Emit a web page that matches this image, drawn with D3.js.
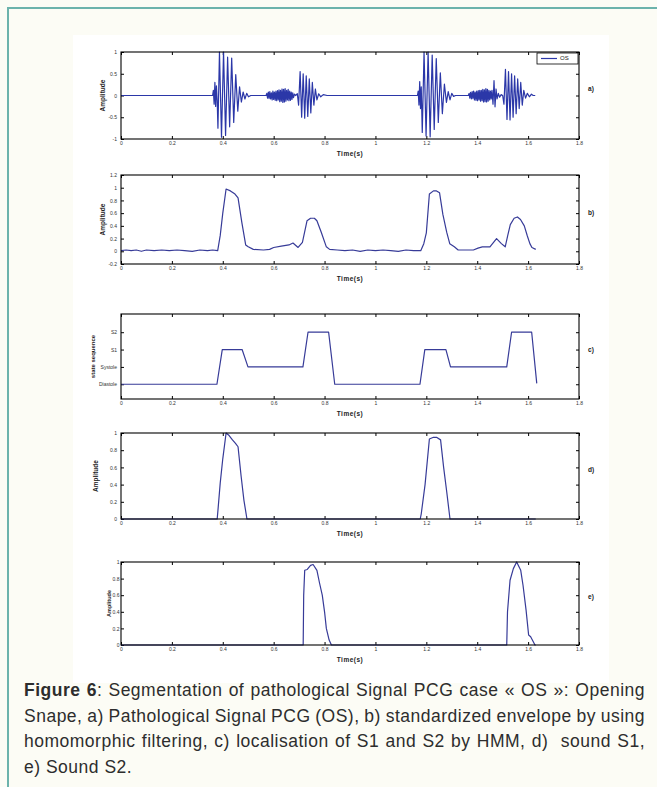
<!DOCTYPE html>
<html lang="en">
<head>
<meta charset="UTF-8">
<title>Figure 6</title>
<script src="https://cdn.jsdelivr.net/npm/d3@7"></script>
<style>
  body{margin:0;background:#fcfcf5;}
  svg{display:block;font-family:"Liberation Sans",Arial,sans-serif;}
</style>
</head>
<body>
<svg id="fig" width="657" height="787"></svg>
<script>
// ---- data: [time (s), value] ----
var xTicks = [0,0.2,0.4,0.6,0.8,1,1.2,1.4,1.6,1.8];
var ampTicksA = [-1,-0.5,0,0.5,1];
var ampTicksB = [-0.2,0,0.2,0.4,0.6,0.8,1,1.2];
var ampTicksDE = [0,0.2,0.4,0.6,0.8,1];
var stateTicks = [1,2,3,4];
var stateNames = ["Diastole","Systole","S1","S2"];
var panelTags = ["a)","b)","c)","d)","e)"];

// a) PCG signal (OS)
var pcgSignal = [
  [0,0],[0.36,0],
  [0.363,0.12],[0.366,-0.2],[0.369,0.3],[0.372,-0.25],[0.375,0.22],[0.378,-0.1],
  [0.381,-0.75],[0.387,1],[0.395,-0.96],[0.403,1],[0.411,-0.92],[0.419,0.88],[0.427,-0.72],
  [0.435,0.86],[0.443,-0.62],[0.451,0.48],[0.459,-0.36],[0.466,0.2],[0.473,-0.15],[0.48,0.08],
  [0.487,-0.08],[0.494,0.05],[0.501,-0.03],[0.51,0],
  [0.57,0],[0.573,0.05],[0.576,-0.06],[0.579,0.08],[0.582,-0.07],[0.585,0.09],[0.588,-0.08],
  [0.591,0.06],[0.594,-0.1],[0.597,0.1],[0.6,-0.09],[0.603,0.08],[0.606,-0.11],[0.609,0.1],
  [0.612,-0.12],[0.615,0.11],[0.618,-0.1],[0.621,0.13],[0.624,-0.14],[0.627,0.12],[0.63,-0.13],
  [0.633,0.15],[0.636,-0.16],[0.639,0.14],[0.642,-0.15],[0.645,0.16],[0.648,-0.13],[0.651,0.12],
  [0.654,-0.1],[0.657,0.14],[0.66,-0.12],[0.663,0.1],[0.666,-0.11],[0.669,0.08],[0.672,-0.09],
  [0.675,0.06],[0.678,-0.05],[0.682,0.03],[0.686,0],
  [0.693,0.04],[0.698,-0.22],[0.704,0.55],[0.71,-0.5],[0.716,0.5],[0.722,-0.52],[0.728,0.45],
  [0.734,-0.48],[0.74,0.38],[0.746,-0.4],[0.752,0.3],[0.758,-0.22],[0.764,0.15],[0.77,-0.1],
  [0.777,0.04],[0.785,-0.03],[0.795,0.02],[0.81,0],
  [1.165,0],[1.168,0.1],[1.171,-0.22],[1.174,0.32],[1.177,-0.3],[1.18,0.2],
  [1.184,-0.85],[1.191,1],[1.199,-0.93],[1.207,1],[1.215,-0.95],[1.223,0.93],[1.231,-0.78],
  [1.239,0.85],[1.247,-0.62],[1.255,0.52],[1.263,-0.42],[1.271,0.26],[1.279,-0.16],[1.286,0.09],
  [1.293,-0.1],[1.3,0.05],[1.307,-0.02],[1.315,0],
  [1.365,0],[1.368,0.05],[1.371,-0.06],[1.374,0.07],[1.377,-0.08],[1.38,0.09],[1.383,-0.07],
  [1.386,0.1],[1.389,-0.1],[1.392,0.08],[1.395,-0.11],[1.398,0.1],[1.401,-0.12],[1.404,0.11],
  [1.407,-0.1],[1.41,0.12],[1.413,-0.13],[1.416,0.12],[1.419,-0.12],[1.422,0.14],[1.425,-0.15],
  [1.428,0.13],[1.431,-0.14],[1.434,0.16],[1.437,-0.15],[1.44,0.14],[1.443,-0.13],[1.446,0.12],
  [1.449,-0.1],[1.452,0.1],[1.455,-0.08],[1.458,0.12],[1.462,-0.2],[1.466,0.34],[1.47,-0.26],
  [1.474,0.15],[1.478,-0.08],[1.483,0.05],[1.488,-0.04],[1.494,0.02],[1.5,0],
  [1.505,-0.2],[1.511,0.6],[1.517,-0.55],[1.523,0.55],[1.529,-0.56],[1.535,0.5],[1.541,-0.5],
  [1.547,0.45],[1.553,-0.42],[1.559,0.38],[1.565,-0.3],[1.571,0.3],[1.577,-0.22],[1.583,0.12],
  [1.59,-0.06],[1.597,0.05],[1.605,-0.03],[1.613,0.03],[1.62,0],[1.628,0]
];

// b) standardized envelope (homomorphic filtering)
var envelope = [
  [0,0.01],[0.02,0.02],[0.04,0.01],[0.06,0.02],[0.08,0],[0.1,0.02],[0.13,0.01],[0.16,0.02],
  [0.19,0.01],[0.22,0.02],[0.25,0.01],[0.28,0],[0.31,0.02],[0.34,0.01],[0.36,0.02],[0.38,0.01],
  [0.39,0.25],[0.4,0.6],[0.413,0.98],[0.43,0.95],[0.448,0.9],[0.46,0.84],[0.475,0.45],
  [0.49,0.1],[0.5,0.07],[0.52,0.03],[0.56,0.02],[0.584,0.03],[0.6,0.06],[0.63,0.08],[0.66,0.1],
  [0.676,0.13],[0.696,0.06],[0.713,0.14],[0.731,0.48],[0.745,0.52],[0.76,0.52],[0.77,0.48],
  [0.787,0.3],[0.807,0.07],[0.82,0.03],[0.85,0.02],[0.88,0.01],[0.91,0.02],[0.94,0],[0.97,0.02],
  [1,0.01],[1.03,0.02],[1.06,0.01],[1.09,0],[1.12,0.02],[1.15,0.01],[1.178,0.01],
  [1.19,0.12],[1.2,0.29],[1.212,0.9],[1.228,0.95],[1.24,0.95],[1.252,0.92],[1.265,0.58],
  [1.28,0.3],[1.292,0.12],[1.31,0.07],[1.325,0.02],[1.36,0.02],[1.385,0.02],[1.403,0.05],
  [1.42,0.07],[1.45,0.07],[1.476,0.2],[1.495,0.12],[1.51,0.07],[1.52,0.25],[1.53,0.42],
  [1.545,0.52],[1.558,0.54],[1.57,0.5],[1.585,0.4],[1.597,0.24],[1.607,0.12],[1.615,0.06],
  [1.63,0.03]
];

// c) HMM state sequence (1 Diastole, 2 Systole, 3 S1, 4 S2)
var stateSeq = [
  [0,1],[0.377,1],[0.398,3],[0.476,3],[0.499,2],[0.715,2],[0.735,4],[0.816,4],[0.84,1],
  [1.175,1],[1.194,3],[1.277,3],[1.295,2],[1.516,2],[1.535,4],[1.614,4],[1.634,1.05]
];

// d) sound S1
var soundS1 = [
  [0,0],[0.378,0],[0.381,0.1],[0.39,0.42],[0.4,0.7],[0.413,1],[0.425,0.97],[0.438,0.92],
  [0.45,0.88],[0.46,0.84],[0.472,0.5],[0.483,0.22],[0.495,0],[1.176,0],[1.18,0.06],
  [1.195,0.4],[1.212,0.93],[1.228,0.95],[1.24,0.95],[1.256,0.92],[1.268,0.6],[1.28,0.32],
  [1.293,0],[1.63,0]
];

// e) sound S2
var soundS2 = [
  [0,0],[0.716,0],[0.718,0.6],[0.722,0.9],[0.732,0.91],[0.745,0.96],[0.755,0.97],[0.77,0.9],
  [0.78,0.75],[0.791,0.6],[0.8,0.4],[0.807,0.2],[0.818,0.06],[0.827,0],[1.516,0],
  [1.519,0.4],[1.529,0.78],[1.542,0.92],[1.555,1],[1.571,0.9],[1.58,0.72],[1.592,0.42],
  [1.602,0.12],[1.61,0.1],[1.627,0],[1.63,0]
];

var captionLines = [
  ["Figure 6", ": Segmentation of pathological Signal PCG case \u00ab OS \u00bb: Opening"],
  ["", "Snape, a) Pathological Signal PCG (OS), b) standardized envelope by using"],
  ["", "homomorphic filtering, c) localisation of S1 and S2 by HMM, d)  sound S1,"],
  ["", "e) Sound S2."]
];

// ---- drawing ----
var svg = d3.select("#fig");

svg.append("rect").attr("x",73).attr("y",35).attr("width",536).attr("height",648).attr("fill","#ffffff");
svg.append("path").attr("d","M8,787V8H657").attr("fill","none").attr("stroke","#6cb3ac").attr("stroke-width",2);

var x = d3.scaleLinear().domain([0,1.8]).range([121,579]);
var fmt = function(d){ return String(d); };

var panels = [
  {data:pcgSignal, top:52, bottom:139, domain:[-1,1], ticks:ampTicksA, label:"Amplitude", lx:103, ls:6.5, pad:4, color:"#2b37a8"},
  {data:envelope, top:175, bottom:264, domain:[-0.2,1.2], ticks:ampTicksB, label:"Amplitude", lx:103, ls:6.5, pad:4, color:"#373b98"},
  {data:stateSeq, top:314, bottom:399, domain:[0.15,5.05], ticks:stateTicks, names:stateNames, label:"state sequence", lx:93, ls:6, pad:4, color:"#373b98"},
  {data:soundS1, top:433, bottom:519, domain:[0,1], ticks:ampTicksDE, label:"Amplitude", lx:96, ls:6.5, pad:4, color:"#373b98"},
  {data:soundS2, top:562, bottom:645, domain:[0,1], ticks:ampTicksDE, label:"Amplitude", lx:110, ls:5.5, pad:1.5, color:"#373b98"}
];

panels.forEach(function(p, i){
  var y = d3.scaleLinear().domain(p.domain).range([p.bottom, p.top]);
  var g = svg.append("g");
  var yFmt = p.names ? function(d){ return p.names[p.ticks.indexOf(d)]; } : fmt;

  var axes = [
    [d3.axisBottom(x).tickValues(xTicks).tickFormat(fmt).tickPadding(2), "translate(0,"+p.bottom+")"],
    [d3.axisTop(x).tickValues(xTicks).tickFormat(""), "translate(0,"+p.top+")"],
    [d3.axisLeft(y).tickValues(p.ticks).tickFormat(yFmt).tickPadding(p.pad), "translate(121,0)"],
    [d3.axisRight(y).tickValues(p.ticks).tickFormat(""), "translate(579,0)"]
  ];
  axes.forEach(function(a){
    var ax = g.append("g").attr("transform", a[1])
      .call(a[0].tickSizeInner(-3).tickSizeOuter(0));
    ax.select(".domain").remove();
    ax.selectAll("line").attr("stroke","#000").attr("stroke-width",1);
    ax.selectAll("text").attr("font-size",5).attr("fill","#333").attr("font-family","Liberation Sans, Arial, sans-serif");
  });

  g.append("clipPath").attr("id","clip"+i).append("rect")
    .attr("x",121).attr("y",p.top-1).attr("width",458).attr("height",p.bottom-p.top+2);

  g.append("path").datum(p.data)
    .attr("clip-path","url(#clip"+i+")")
    .attr("fill","none").attr("stroke",p.color).attr("stroke-width",1.2)
    .attr("stroke-linejoin","round")
    .attr("d", d3.line().x(function(d){ return x(d[0]); }).y(function(d){ return y(d[1]); }));

  g.append("rect").attr("x",121).attr("y",p.top).attr("width",458).attr("height",p.bottom-p.top)
    .attr("fill","none").attr("stroke","#000").attr("stroke-width",1.1);

  g.append("text").attr("x",350).attr("y",p.bottom+15).attr("text-anchor","middle")
    .attr("dominant-baseline","middle").attr("font-size",6.5).attr("font-weight","bold")
    .attr("letter-spacing",0.5).attr("fill","#222").text("Time(s)");

  var cy = (p.top+p.bottom)/2;
  g.append("text").attr("transform","translate("+p.lx+","+cy+") rotate(-90)")
    .attr("text-anchor","middle").attr("dominant-baseline","middle")
    .attr("font-size",p.ls).attr("font-weight","bold").attr("fill","#222").text(p.label);

  g.append("text").attr("x",591).attr("y",cy-6).attr("text-anchor","middle")
    .attr("dominant-baseline","middle").attr("font-size",6.5).attr("font-weight","bold")
    .attr("fill","#222").text(panelTags[i]);

  if(i===0){
    g.append("rect").attr("x",537).attr("y",53).attr("width",41).attr("height",11)
      .attr("fill","#fff").attr("stroke","#000").attr("stroke-width",0.8);
    g.append("line").attr("x1",541).attr("x2",557).attr("y1",58.5).attr("y2",58.5)
      .attr("stroke",p.color).attr("stroke-width",1.2);
    g.append("text").attr("x",560).attr("y",58.8).attr("dominant-baseline","middle")
      .attr("font-size",6).attr("fill","#222").text("OS");
  }
});

// caption, justified line by line
captionLines.forEach(function(line, i){
  var t = svg.append("text").attr("x",24).attr("y",696+i*25.5)
    .attr("font-size",17.5).attr("letter-spacing",0.5).attr("fill","#2d2d2d").style("white-space","pre");
  if(line[0]) t.append("tspan").attr("font-weight","bold").text(line[0]);
  t.append("tspan").text(line[1]);
  if(i < captionLines.length-1){
    var w = t.node().getComputedTextLength();
    var n = (line[0]+line[1]).split(" ").length-1;
    t.attr("word-spacing", (621-w)/n);
  }
});
</script>
</body>
</html>
